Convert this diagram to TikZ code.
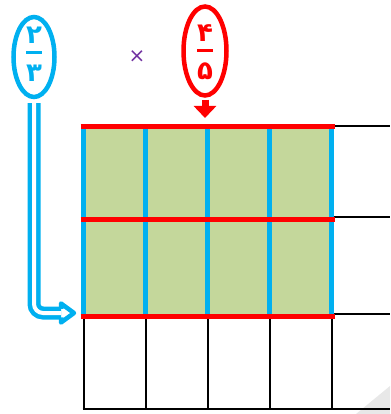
\documentclass[tikz,border=0pt]{standalone}
\usepackage{fontspec}
\usepackage{xcolor}
\usepackage{tikz}
\usetikzlibrary{arrows.meta,shapes.geometric,calc,backgrounds}
\newfontfamily\farsifont[Script=Arabic]{DejaVu Sans}
\definecolor{skyblue}{HTML}{00B0F0}
\definecolor{pureRed}{HTML}{FF0000}
\definecolor{cellgreen}{HTML}{C4D79B}
\definecolor{timespurple}{HTML}{7030A0}

\begin{document}
\begin{tikzpicture}[x=1pt,y=-1pt,
  fracoval/.style={ellipse, draw=#1, fill=white, line width=4.5pt, inner sep=0pt},
  fractext/.style={text=#1, align=center, inner sep=0pt,
    font=\farsifont\bfseries\fontsize{26}{26}\selectfont},
  gridline/.style={black, line width=2pt}]
\useasboundingbox (0,0) rectangle (390,414);

% fractions and sign
\node[fracoval=skyblue, minimum width=41pt, minimum height=80pt] (twothirds) at (34,57) {};
\node[fractext=skyblue] (twothirdsnum) at ([yshift=3pt]twothirds.center)
  {۲\\[-15pt]\rule{16pt}{3pt}\\[1pt]۳};
\node[fracoval=pureRed, minimum width=43pt, minimum height=89pt] (fourfifths) at (205,51) {};
\node[fractext=pureRed] (fourfifthsnum) at ([yshift=-1pt]fourfifths.center)
  {۴\\[-15pt]\rule{16pt}{3pt}\\[1pt]۵};
\node[text=timespurple, inner sep=0pt, font=\farsifont\fontsize{20}{20}\selectfont] (times) at (137,57) {×};

% grid
\fill[gray!18] (356,414) -- (390,386) -- (390,414) -- cycle;
\fill[cellgreen] (83.5,127) rectangle (331.5,316);
\foreach \x in {83.5,145.5,207.5,269.5,331.5}
  \draw[gridline] (\x,316) -- (\x,409);
\foreach \y in {126,217,314}
  \draw[gridline] (331.5,\y) -- (390,\y);
\draw[gridline] (82.5,409) -- (390,409);
\foreach \x in {83.5,145.5,207.5,269.5,331.5}
  \draw[skyblue, line width=5.5pt] (\x,127) -- (\x,316);
\foreach \y in {127,219,316}
  \draw[pureRed, line width=5pt] (80.5,\y) -- (334.5,\y);

% arrows
\coordinate (bluebase) at (61,313);
\coordinate (bluetip) at (74,313);
\coordinate (redtip) at (205,118);
\begin{scope}[on background layer]
\draw[skyblue, line width=4.5pt, double=white, double distance=4pt, rounded corners=9pt]
  ([yshift=-4pt]twothirds.south) |- (bluebase);
\draw[skyblue, line width=4.5pt, line join=round]
  ($(bluebase)+(0,-4.25)$) -- ($(bluebase)+(0,-9.5)$) -- (bluetip)
  -- ($(bluebase)+(0,9.5)$) -- ($(bluebase)+(0,4.25)$);
\end{scope}
\draw[pureRed, line width=7pt, -{Triangle[length=12pt, width=22pt]}]
  ([yshift=-2pt]fourfifths.south) -- (redtip);
\end{tikzpicture}
\end{document}
